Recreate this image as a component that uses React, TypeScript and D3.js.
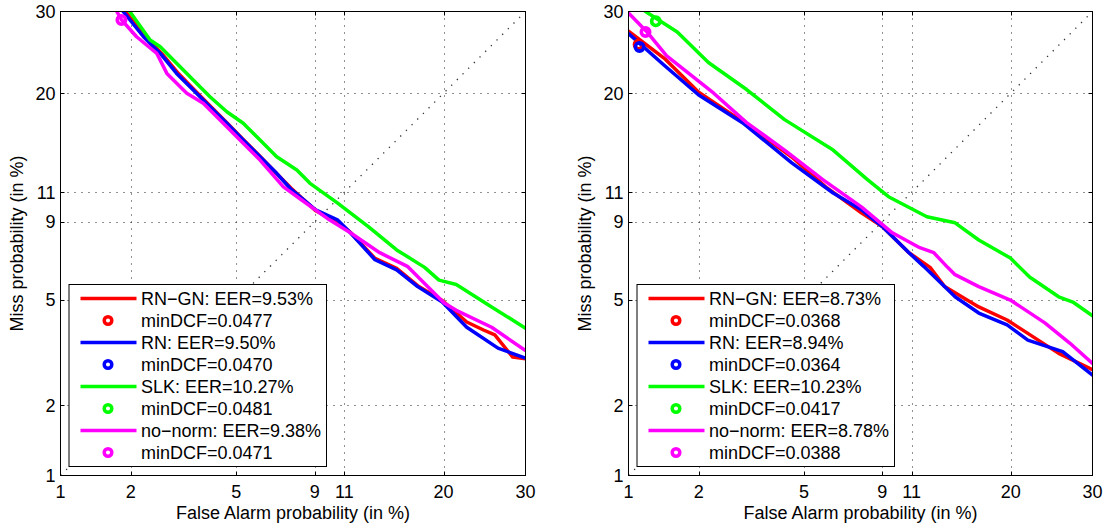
import React from "react";
import * as d3 from "d3";

// ---------- data (percent values: [false alarm %, miss %]) ----------
const tickValues = [1, 2, 5, 9, 11, 20, 30];
const seriesNames = ["RN−GN", "RN", "SLK", "no−norm"];
const seriesColors = ["#ff0000", "#0000ff", "#00ff00", "#ff00ff"];

const leftEER = ["9.53%", "9.50%", "10.27%", "9.38%"];
const leftMinDCF = ["0.0477", "0.0470", "0.0481", "0.0471"];
const rightEER = ["8.73%", "8.94%", "10.23%", "8.78%"];
const rightMinDCF = ["0.0368", "0.0364", "0.0417", "0.0388"];

const leftRNGN: [number, number][] = [[1.9, 30], [2.3, 26.6], [2.67, 24.5], [3.08, 22.2], [3.55, 20.3], [4.08, 18.5], [4.65, 16.9], [5.3, 15.3], [6.05, 13.8], [6.85, 12.4], [7.6, 11.3], [9.05, 9.72], [10.5, 9.0], [11.45, 8.35], [13.4, 6.9], [15.3, 6.4], [17.3, 5.6], [19.85, 4.98], [22.6, 4.18], [24.6, 3.91], [26, 3.75], [28.3, 3.1], [30, 3.05]];
const leftRN: [number, number][] = [[1.86, 30], [2.25, 26.68], [2.62, 24.6], [3.03, 22.22], [3.5, 20.35], [4.03, 18.56], [4.63, 16.89], [5.28, 15.3], [6.02, 13.82], [6.83, 12.45], [7.54, 11.3], [9.05, 9.78], [10.5, 9.12], [11.45, 8.32], [13.4, 6.83], [15.3, 6.33], [17.3, 5.56], [19.85, 4.92], [22.6, 4.0], [26.4, 3.35], [30, 3.07]];
const leftSLK: [number, number][] = [[1.98, 30], [2.39, 26.27], [2.62, 25.43], [3.03, 23.4], [3.5, 21.46], [4.03, 19.62], [4.63, 18.04], [5.28, 16.89], [6.02, 15.3], [6.83, 13.82], [7.92, 12.71], [8.7, 11.67], [10.5, 10.25], [12.85, 8.7], [15.3, 7.35], [18, 6.45], [19.5, 5.85], [21.4, 5.65], [25.6, 4.73], [30, 3.97]];
const leftNoNorm: [number, number][] = [[1.75, 30], [1.83, 28.9], [2.11, 26.68], [2.54, 24.6], [2.78, 22.22], [3.31, 20.0], [3.81, 18.93], [4.38, 17.21], [5.28, 15.0], [6.02, 13.54], [7.18, 11.4], [8.2, 10.45], [9.95, 9.12], [11.45, 8.32], [13.8, 7.2], [16.3, 6.5], [20.05, 4.88], [21.4, 4.6], [25.6, 4.0], [30, 3.28]];
const leftMinPoints: [number, number][] = [[1.75, 32], [1.75, 32], [1.9, 32], [1.83, 28.86]];

const rightRNGN: [number, number][] = [[1.0, 27.4], [1.45, 23.9], [2.0, 20.1], [3.19, 16.55], [4.53, 13.8], [5.93, 11.4], [7.75, 9.58], [9.0, 8.7], [10.8, 7.2], [12.4, 6.45], [13.6, 5.56], [16.7, 4.73], [19.6, 4.25], [21.9, 3.8], [25.6, 3.2], [30, 2.77]];
const rightRN: [number, number][] = [[1.0, 27.1], [1.43, 23.2], [2.0, 19.8], [2.98, 16.95], [4.53, 13.3], [6.28, 10.95], [7.75, 9.78], [9.0, 8.7], [10.8, 7.2], [11.9, 6.5], [14.5, 5.13], [16.7, 4.5], [19.6, 4.08], [21.9, 3.59], [26.1, 3.25], [30, 2.64]];
const rightSLK: [number, number][] = [[1.19, 30], [1.63, 27.3], [2.19, 23.5], [3.09, 20.4], [4.27, 17.25], [6.28, 14.4], [8.1, 11.95], [9.4, 10.68], [12.15, 9.32], [14.5, 8.93], [16.7, 7.9], [19.95, 6.92], [22.1, 5.99], [25.6, 5.13], [27.4, 4.92], [30, 4.4]];
const rightNoNorm: [number, number][] = [[1.0, 29.8], [1.2, 27.4], [1.47, 24.3], [2.3, 20.0], [3.09, 16.95], [4.27, 14.4], [5.8, 11.95], [7.75, 9.97], [9.65, 8.32], [11.6, 7.47], [12.7, 7.2], [13.85, 6.45], [14.5, 6.1], [16.7, 5.56], [19.95, 5.0], [23.9, 4.15], [27, 3.5], [30, 2.93]];
const rightMinPoints: [number, number][] = [[1.11, 25.7], [1.12, 25.4], [1.32, 28.7], [1.19, 27.3]];

const xLabel = "False Alarm probability (in %)";
const yLabel = "Miss probability (in %)";

// ---------- probit ----------
function probit(p: number): number {
  const a = [-3.969683028665376e1, 2.209460984245205e2, -2.759285104469687e2, 1.38357751867269e2, -3.066479806614716e1, 2.506628277459239];
  const b = [-5.447609879822406e1, 1.615858368580409e2, -1.556989798598866e2, 6.680131188771972e1, -1.328068155288572e1];
  const c = [-7.784894002430293e-3, -3.223964580411365e-1, -2.400758277161838, -2.549732539343734, 4.374664141464968, 2.938163982698783];
  const d = [7.784695709041462e-3, 3.224671290700398e-1, 2.445134137142996, 3.754408661907416];
  const plow = 0.02425;
  const phigh = 1 - plow;
  if (p < plow) {
    const q = Math.sqrt(-2 * Math.log(p));
    return (((((c[0] * q + c[1]) * q + c[2]) * q + c[3]) * q + c[4]) * q + c[5]) / ((((d[0] * q + d[1]) * q + d[2]) * q + d[3]) * q + 1);
  }
  if (p <= phigh) {
    const q = p - 0.5;
    const r = q * q;
    return ((((((a[0] * r + a[1]) * r + a[2]) * r + a[3]) * r + a[4]) * r + a[5]) * q) / (((((b[0] * r + b[1]) * r + b[2]) * r + b[3]) * r + b[4]) * r + 1);
  }
  const q = Math.sqrt(-2 * Math.log(1 - p));
  return -(((((c[0] * q + c[1]) * q + c[2]) * q + c[3]) * q + c[4]) * q + c[5]) / ((((d[0] * q + d[1]) * q + d[2]) * q + d[3]) * q + 1);
}

const FONT = "'Liberation Sans', Arial, Helvetica, sans-serif";

type PanelProps = {
  id: string;
  x0: number;
  x1: number;
  series: [number, number][][];
  minPts: [number, number][];
  eer: string[];
  minDCF: string[];
};

function Panel({ id, x0, x1, series, minPts, eer, minDCF }: PanelProps) {
  const yTop = 11.5;
  const yBot = 475.5;
  const sx = d3.scaleLinear().domain([probit(0.01), probit(0.3)]).range([x0, x1]);
  const sy = d3.scaleLinear().domain([probit(0.01), probit(0.3)]).range([yBot, yTop]);
  const X = (v: number) => sx(probit(v / 100));
  const Y = (v: number) => sy(probit(v / 100));
  const line = d3
    .line<[number, number]>()
    .x((d) => X(d[0]))
    .y((d) => Y(d[1]));
  const inner = tickValues.filter((t) => t !== 1 && t !== 30);
  const fs = 18;
  const lgX = x0 + 8.5;
  const lgY = 284.5;
  const lgW = 257.5;
  const lgH = 182;
  const rowY = (i: number) => 298.5 + 22 * i;
  const legendRows: { type: "line" | "circle"; color: string; text: string }[] = [];
  seriesNames.forEach((n, i) => {
    legendRows.push({ type: "line", color: seriesColors[i], text: `${n}: EER=${eer[i]}` });
    legendRows.push({ type: "circle", color: seriesColors[i], text: `minDCF=${minDCF[i]}` });
  });
  return (
    <g>
      <defs>
        <clipPath id={`clip-${id}`}>
          <rect x={x0} y={yTop} width={x1 - x0} height={yBot - yTop} />
        </clipPath>
      </defs>
      <rect x={x0} y={yTop} width={x1 - x0} height={yBot - yTop} fill="#fff" />
      {/* grid */}
      {inner.map((t) => (
        <line key={`gx${t}`} x1={Math.round(X(t)) + 0.5} x2={Math.round(X(t)) + 0.5} y1={yTop} y2={yBot} stroke="#222" strokeWidth={1} strokeDasharray="1,6" />
      ))}
      {inner.map((t) => (
        <line key={`gy${t}`} y1={Math.round(Y(t)) + 0.5} y2={Math.round(Y(t)) + 0.5} x1={x0} x2={x1} stroke="#222" strokeWidth={1} strokeDasharray="1,6" />
      ))}
      {/* diagonal */}
      <line x1={X(1)} y1={Y(1)} x2={X(30)} y2={Y(30)} stroke="#333" strokeWidth={1.3} strokeDasharray="1.3,6.7" />
      {/* ticks */}
      {inner.map((t) => (
        <g key={`t${t}`}>
          <line x1={Math.round(X(t)) + 0.5} x2={Math.round(X(t)) + 0.5} y1={yBot} y2={yBot - 4} stroke="#000" />
          <line x1={Math.round(X(t)) + 0.5} x2={Math.round(X(t)) + 0.5} y1={yTop} y2={yTop + 4} stroke="#000" />
          <line y1={Math.round(Y(t)) + 0.5} y2={Math.round(Y(t)) + 0.5} x1={x0} x2={x0 + 4} stroke="#000" />
          <line y1={Math.round(Y(t)) + 0.5} y2={Math.round(Y(t)) + 0.5} x1={x1} x2={x1 - 4} stroke="#000" />
        </g>
      ))}
      {/* curves */}
      <g clipPath={`url(#clip-${id})`}>
        {series.map((s, i) => (
          <path key={`s${i}`} d={line(s) || ""} fill="none" stroke={seriesColors[i]} strokeWidth={3.5} strokeLinejoin="round" strokeLinecap="round" />
        ))}
        {minPts.map((p, i) => (
          <circle key={`c${i}`} cx={X(p[0])} cy={Y(p[1])} r={4.2} fill="none" stroke={seriesColors[i]} strokeWidth={3.6} />
        ))}
      </g>
      {/* frame */}
      <rect x={x0} y={yTop} width={x1 - x0} height={yBot - yTop} fill="none" stroke="#000" strokeWidth={1} />
      {/* tick labels */}
      {tickValues.map((t) => (
        <text key={`xl${t}`} x={X(t)} y={498} textAnchor="middle" fontSize={fs} fontFamily={FONT} fill="#000">
          {t}
        </text>
      ))}
      {tickValues.map((t) => (
        <text key={`yl${t}`} x={x0 - 5} y={Y(t)} dy="0.36em" textAnchor="end" fontSize={fs} fontFamily={FONT} fill="#000">
          {t}
        </text>
      ))}
      {/* axis labels */}
      <text x={(x0 + x1) / 2} y={519} textAnchor="middle" fontSize={fs} fontFamily={FONT} fill="#000">
        {xLabel}
      </text>
      <text transform={`translate(${x0 - 38},${(yTop + yBot) / 2}) rotate(-90)`} textAnchor="middle" fontSize={fs} fontFamily={FONT} fill="#000">
        {yLabel}
      </text>
      {/* legend */}
      <rect x={lgX} y={lgY} width={lgW} height={lgH} fill="#fff" stroke="#000" strokeWidth={1} />
      {legendRows.map((r, i) => (
        <g key={`lg${i}`}>
          {r.type === "line" ? (
            <line x1={x0 + 20} x2={x0 + 76} y1={rowY(i)} y2={rowY(i)} stroke={r.color} strokeWidth={3.3} />
          ) : (
            <circle cx={x0 + 47.5} cy={rowY(i)} r={3.8} fill="none" stroke={r.color} strokeWidth={3.5} />
          )}
          <text x={x0 + 80.5} y={rowY(i)} dy="0.36em" fontSize={fs} fontFamily={FONT} fill="#000">
            {r.text}
          </text>
        </g>
      ))}
    </g>
  );
}

export default function App() {
  return (
    <svg width={1107} height={527} style={{ position: "absolute", left: 0, top: 0, background: "#fff" }}>
      <rect x={0} y={0} width={1107} height={527} fill="#fff" />
      <Panel id="L" x0={60.5} x1={525.5} series={[leftRNGN, leftRN, leftSLK, leftNoNorm]} minPts={leftMinPoints} eer={leftEER} minDCF={leftMinDCF} />
      <Panel id="R" x0={628.5} x1={1092.5} series={[rightRNGN, rightRN, rightSLK, rightNoNorm]} minPts={rightMinPoints} eer={rightEER} minDCF={rightMinDCF} />
    </svg>
  );
}
